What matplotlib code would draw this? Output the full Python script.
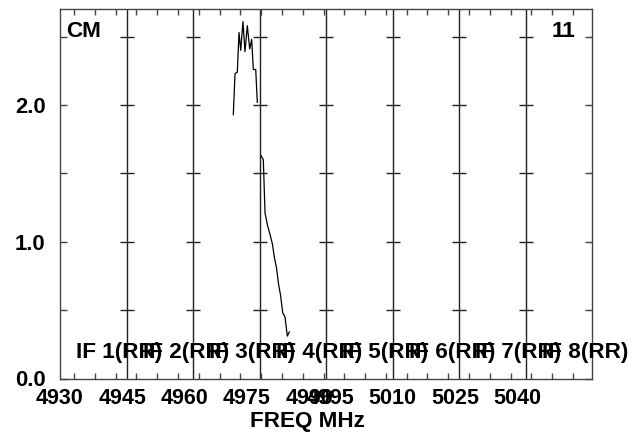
import numpy as np
import matplotlib
matplotlib.use("Agg")
import matplotlib.pyplot as plt

plt.rcParams['font.family'] = ['Liberation Sans', 'DejaVu Sans']
plt.rcParams['font.weight'] = 'bold'

# ---- data ----
if_labels = ["IF 1(RR)", "IF 2(RR)", "IF 3(RR)", "IF 4(RR)",
             "IF 5(RR)", "IF 6(RR)", "IF 7(RR)", "IF 8(RR)"]
freq_tick_labels = [4930, 4945, 4960, 4975, 4990, 4995, 5010, 5025, 5040]
y_tick_labels = ["0.0", "1.0", "2.0"]

if3_freq = [4971.70, 4972.11, 4972.66, 4973.07, 4973.48, 4974.03, 4974.51,
            4975.07, 4975.64, 4976.12, 4976.51, 4977.09, 4977.47]
if3_amp = [1.93, 2.23, 2.24, 2.53, 2.40, 2.61, 2.39, 2.58, 2.41, 2.48,
           2.26, 2.26, 2.02]

if4_freq = [4978.36, 4978.92, 4979.33, 4979.93, 4980.65, 4981.13, 4981.61,
            4982.09, 4982.58, 4983.06, 4983.59, 4984.14, 4984.69, 4985.17]
if4_amp = [1.63, 1.60, 1.21, 1.12, 1.04, 0.98, 0.88, 0.81, 0.69, 0.61,
           0.48, 0.45, 0.31, 0.34]

f_start = 4930.0
if_width = 16.0
n_if = 8
y_max = 2.70

fig = plt.figure(figsize=(6.33, 4.32), dpi=100)
ax = fig.add_axes([60/633, 1 - 378.5/432, 532/633, (378.5 - 9.3)/432])
ax.set_xlim(f_start, f_start + n_if * if_width)
ax.set_ylim(0, y_max)

frame_col = '#444444'
for s in ax.spines.values():
    s.set_color(frame_col)
    s.set_linewidth(1.0)

# panel boundaries
bounds = [f_start + if_width * i for i in range(1, n_if)]
for b in bounds:
    ax.axvline(b, color='#222222', lw=1.0, zorder=1)
# cross ticks on panel boundaries
ytk = np.arange(0.5, y_max, 0.5)
for b in bounds:
    ax.plot([b] * len(ytk), ytk, linestyle='none', marker='_',
            markersize=9.5, mew=1.0, color='#222222', zorder=1)

# spectra
ax.plot(if3_freq, if3_amp, color='black', lw=0.9, zorder=3)
ax.plot(if4_freq, if4_amp, color='black', lw=0.9, zorder=3)

# x ticks
ax.set_xticks(freq_tick_labels)
ax.set_xticklabels([str(v) for v in freq_tick_labels], fontsize=15.5,
                   fontweight='bold')
ax.set_xticks(np.arange(4933.4, f_start + n_if * if_width, 5.0), minor=True)
ax.tick_params(axis='x', which='major', length=0, pad=6.5)
ax.tick_params(axis='x', which='minor', direction='in', top=True,
               bottom=True, length=4.5, width=1.0, color=frame_col)

# y ticks
ax.set_yticks([0, 1, 2])
ax.set_yticklabels(y_tick_labels, fontsize=15.8, fontweight='bold')
ax.set_yticks([0.5, 1.5, 2.5], minor=True)
ax.tick_params(axis='y', which='both', direction='in', left=True,
               right=True, length=4.7, width=1.0, color=frame_col, pad=10.5)

# IF labels
for i, lab in enumerate(if_labels):
    ax.text(f_start + if_width * i + 3.85, 0.147, lab, fontsize=16.2,
            fontweight='bold', va='baseline', ha='left', zorder=4)

fig.text(66/633, 1 - 36.7/432, "CM", fontsize=16.2, fontweight='bold',
         va='baseline', ha='left')
fig.text(575/633, 1 - 36.7/432, "11", fontsize=16.2, fontweight='bold',
         va='baseline', ha='right')
fig.text(307/633, 1 - 427.5/432, "FREQ MHz", fontsize=16.2, fontweight='bold',
         va='baseline', ha='center')

fig.savefig("out.png", dpi=100)
